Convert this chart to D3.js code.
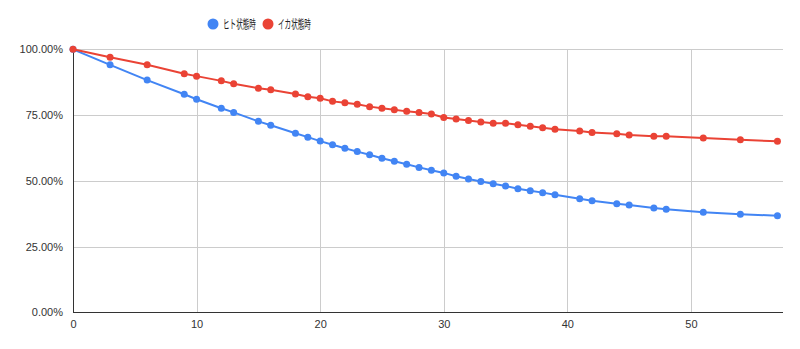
<!DOCTYPE html>
<html><head><meta charset="utf-8">
<script src="https://cdn.jsdelivr.net/npm/d3@7"></script>
<style>body{margin:0;background:#fff}svg{display:block}text{font-family:"Liberation Sans",Arial,"Noto Sans CJK JP",sans-serif}</style>
</head><body><svg id="c" width="800" height="349"></svg>
<script>
const seriesNames = ["ヒト状態時", "イカ状態時"];
const seriesColors = ["#4285F4", "#EA4335"];
const xValues = [0,3,6,9,10,12,13,15,16,18,19,20,21,22,23,24,25,26,27,28,29,30,31,32,33,34,35,36,37,38,39,41,42,44,45,47,48,51,54,57];
const humanValues = [100,94.1,88.3,82.9,81.0,77.6,76.0,72.6,71.1,68.1,66.6,65.1,63.7,62.4,61.1,59.9,58.6,57.4,56.3,55.1,54.0,53.0,51.7,50.7,49.7,48.9,48.0,47.0,46.2,45.5,44.7,43.2,42.4,41.3,40.8,39.7,39.2,38.0,37.3,36.7];
const squidValues = [100,97.0,94.1,90.7,89.8,88.0,86.9,85.2,84.6,83.0,82.0,81.4,80.2,79.7,79.1,78.2,77.6,77.0,76.4,76.0,75.4,74.1,73.5,72.9,72.4,71.9,71.9,71.3,70.7,70.2,69.6,68.9,68.4,67.9,67.4,66.9,66.9,66.3,65.6,65.0];
const xTicks = [0,10,20,30,40,50];
const yTicks = [0,25,50,75,100];

const svg = d3.select("#c");
const x = d3.scaleLinear().domain([0, 57.45]).range([73, 783]);
const y = d3.scaleLinear().domain([0, 100]).range([312.3, 49.3]);

// gridlines
const g = svg.append("g");
g.selectAll(".hg").data(yTicks.filter(t=>t>0)).enter().append("line")
  .attr("x1", x(0)).attr("x2", x(57.45)).attr("y1", d=>Math.round(y(d))+0.5).attr("y2", d=>Math.round(y(d))+0.5)
  .attr("stroke", "#cccccc").attr("stroke-width", 1);
g.selectAll(".vg").data(xTicks.filter(t=>t>0)).enter().append("line")
  .attr("x1", d=>Math.round(x(d))+0.5).attr("x2", d=>Math.round(x(d))+0.5).attr("y1", y(100)).attr("y2", y(0))
  .attr("stroke", "#cccccc").attr("stroke-width", 1);

// axes
const yAxis = d3.axisLeft(y).tickValues(yTicks).tickSize(0).tickPadding(10).tickFormat(d=>d3.format(".2f")(d)+"%");
const ya = svg.append("g").attr("transform", `translate(${x(0)},0)`).call(yAxis);
ya.select(".domain").remove();
ya.selectAll("text").attr("font-size", 11).attr("fill", "#333").attr("font-family", '"Liberation Sans",Arial,sans-serif');
const xAxis = d3.axisBottom(x).tickValues(xTicks).tickSize(0).tickPadding(8).tickFormat(d3.format("d"));
const xa = svg.append("g").attr("transform", `translate(0,${y(0)})`).call(xAxis);
xa.select(".domain").remove();
xa.selectAll("text").attr("font-size", 11).attr("fill", "#333").attr("font-family", '"Liberation Sans",Arial,sans-serif');

svg.append("line").attr("x1", Math.round(x(0))+0.5).attr("x2", Math.round(x(0))+0.5).attr("y1", y(100)).attr("y2", y(0)+0.5).attr("stroke", "#333").attr("stroke-width", 1);
svg.append("line").attr("x1", x(0)).attr("x2", x(57.45)).attr("y1", Math.round(y(0))+0.5).attr("y2", Math.round(y(0))+0.5).attr("stroke", "#333").attr("stroke-width", 1);

// series
const all = [humanValues, squidValues];
const line = d3.line().x((d,i)=>x(xValues[i])).y(d=>y(d));
all.forEach((vals, si) => {
  svg.append("path").datum(vals).attr("d", line).attr("fill", "none")
    .attr("stroke", seriesColors[si]).attr("stroke-width", 2);
  svg.append("g").selectAll("circle").data(vals).enter().append("circle")
    .attr("cx", (d,i)=>x(xValues[i])).attr("cy", d=>y(d)).attr("r", 3.5)
    .attr("fill", seriesColors[si]);
});

// legend
const legend = svg.append("g");
const lx = [213, 268];
seriesNames.forEach((n, i) => {
  legend.append("circle").attr("cx", lx[i]).attr("cy", 24).attr("r", 5.5).attr("fill", seriesColors[i]);
  const gt = legend.append("g").attr("transform", `translate(${lx[i] + 10},28.5)`);
  const t = gt.append("text").attr("x", 0).attr("y", 0).attr("font-size", 12.5).attr("fill", "#222")
    .attr("font-family", '"Noto Sans CJK JP",sans-serif').text(n);
  const w = t.node().getComputedTextLength();
  t.attr("transform", `scale(${33 / w},1)`);
});
</script></body></html>
